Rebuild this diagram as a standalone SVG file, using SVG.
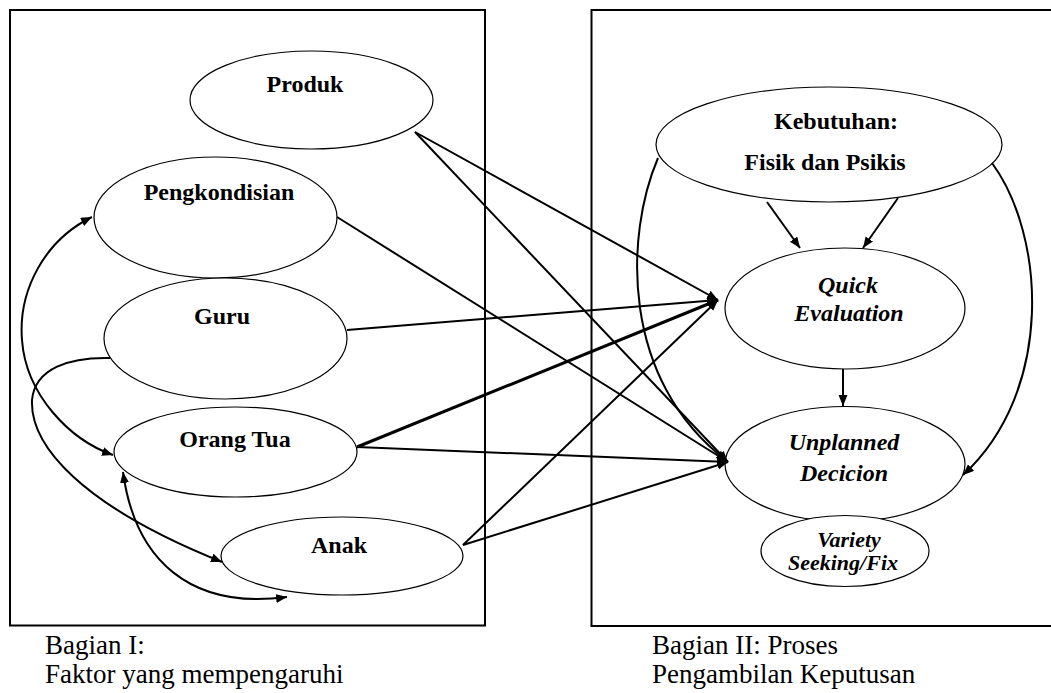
<svg xmlns="http://www.w3.org/2000/svg" width="1051" height="693" viewBox="0 0 1051 693">
<style>
.frame{fill:none;stroke:#000;stroke-width:2}
.node{fill:#fff;stroke:#000;stroke-width:1.2}
.lbl{font-family:"Liberation Serif","Times New Roman",serif;font-size:24px;font-weight:bold;fill:#000;text-anchor:middle}
.it{font-style:italic}
.sm{font-size:22px}
.cap{font-family:"Liberation Serif","Times New Roman",serif;font-size:27px;fill:#000}
.c{fill:none;stroke:#000;stroke-width:2}
.thick{stroke-width:3}
</style>
<defs>
<marker id="ah" markerUnits="userSpaceOnUse" markerWidth="12" markerHeight="10" refX="11" refY="4.5" orient="auto-start-reverse">
<path d="M0,0 L11,4.5 L0,9 z" fill="#000"/>
</marker>
</defs>
<rect class="frame" x="10" y="10" width="475" height="615.5"/>
<rect class="frame" x="591.5" y="10" width="470" height="616"/>
<g id="produk"><ellipse class="node" cx="311.5" cy="100" rx="121.5" ry="49"/><text class="lbl" x="305" y="92">Produk</text></g>
<g id="pengkondisian"><ellipse class="node" cx="215.5" cy="217.5" rx="121.5" ry="60.5"/><text class="lbl" x="219" y="200">Pengkondisian</text></g>
<g id="guru"><ellipse class="node" cx="225.5" cy="338.5" rx="121.5" ry="60.5"/><text class="lbl" x="222" y="324">Guru</text></g>
<g id="orangtua"><ellipse class="node" cx="235.5" cy="452" rx="121.5" ry="45"/><text class="lbl" x="235" y="447">Orang Tua</text></g>
<g id="anak"><ellipse class="node" cx="342" cy="556" rx="121" ry="39"/><text class="lbl" x="339" y="553">Anak</text></g>
<g id="kebutuhan"><ellipse class="node" cx="829" cy="144.5" rx="173" ry="57.5"/><text class="lbl" x="836" y="129">Kebutuhan:</text><text class="lbl" x="825" y="170">Fisik dan Psikis</text></g>
<g id="quick"><ellipse class="node" cx="845" cy="308.5" rx="120" ry="60.5"/><text class="lbl it" x="848" y="293">Quick</text><text class="lbl it" x="849" y="321">Evaluation</text></g>
<g id="unplanned"><ellipse class="node" cx="845" cy="464" rx="120" ry="57.5"/><text class="lbl it" x="844" y="450">Unplanned</text><text class="lbl it" x="844" y="481">Decicion</text></g>
<g id="variety"><ellipse class="node" cx="845" cy="551" rx="84" ry="35.5"/><text class="lbl it sm" x="849" y="547">Variety</text><text class="lbl it sm" x="843" y="570">Seeking/Fix</text></g>
<g id="connectors">
<line class="c" x1="415" y1="132" x2="718" y2="300" marker-end="url(#ah)"/>
<line class="c" x1="415" y1="132" x2="728" y2="462" marker-end="url(#ah)"/>
<line class="c" x1="337" y1="217" x2="728" y2="462" marker-end="url(#ah)"/>
<line class="c" x1="347" y1="330" x2="718" y2="300" marker-end="url(#ah)"/>
<line class="c thick" x1="357" y1="447" x2="718" y2="300" marker-end="url(#ah)"/>
<line class="c" x1="357" y1="447" x2="728" y2="462" marker-end="url(#ah)"/>
<line class="c" x1="463" y1="545" x2="718" y2="300" marker-end="url(#ah)"/>
<line class="c" x1="463" y1="545" x2="728" y2="462" marker-end="url(#ah)"/>
<line class="c" x1="767" y1="202" x2="800" y2="248" marker-end="url(#ah)"/>
<line class="c" x1="898" y1="198" x2="863" y2="248" marker-end="url(#ah)"/>
<line class="c" x1="843" y1="369" x2="843" y2="406" marker-end="url(#ah)"/>
<path class="c" d="M658,158 C625,235 620,380 727,461" marker-end="url(#ah)"/>
<path class="c" d="M992,163 C1045,235 1055,390 963,475" marker-end="url(#ah)"/>
<path class="c" d="M92,217 C45,240 18,290 22,340 C26,395 70,440 113,455" marker-start="url(#ah)" marker-end="url(#ah)"/>
<path class="c" d="M110,358 C70,357 35,368 32,400 C30,445 80,505 222,562" marker-end="url(#ah)"/>
<path class="c" d="M123,472 C135,560 190,610 287,597" marker-start="url(#ah)" marker-end="url(#ah)"/>
</g>
<text class="cap" x="45" y="654">Bagian I:</text>
<text class="cap" x="45" y="683">Faktor yang mempengaruhi</text>
<text class="cap" x="652" y="654">Bagian II: Proses</text>
<text class="cap" x="652" y="683">Pengambilan Keputusan</text>
</svg>
